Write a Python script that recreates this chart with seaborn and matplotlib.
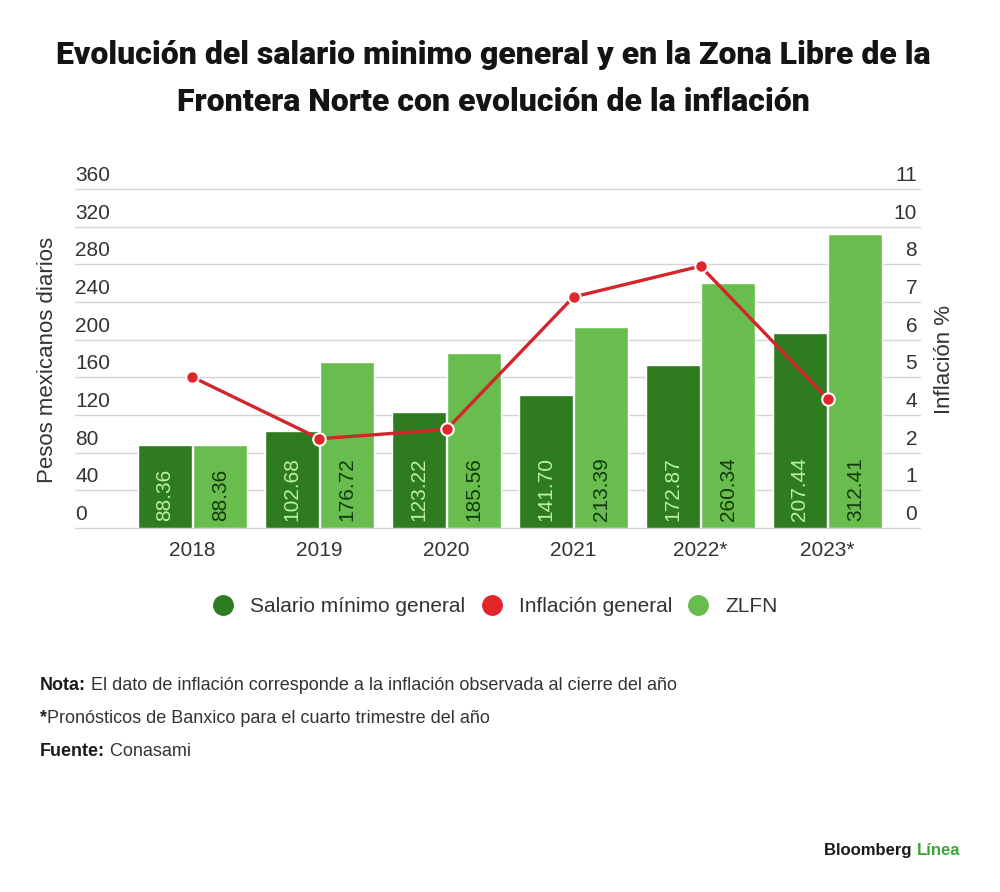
import numpy as np
import pandas as pd
import matplotlib
matplotlib.use('Agg')
import matplotlib.pyplot as plt
from matplotlib.lines import Line2D
import seaborn as sns

years = ['2018', '2019', '2020', '2021', '2022*', '2023*']
salario_general = [88.36, 102.68, 123.22, 141.70, 172.87, 207.44]
salario_zlfn = [88.36, 176.72, 185.56, 213.39, 260.34, 312.41]
inflacion = [4.9, 2.9, 3.2, 7.5, 8.5, 4.2]

left_ticks = [0, 40, 80, 120, 160, 200, 240, 280, 320, 360]
right_labels = ['0', '1', '2', '4', '5', '6', '7', '8', '10', '11']

dark_green = '#2e7b20'
light_green = '#68bd4e'
red = '#e0262a'

sns.set_theme(style='white')
plt.rcParams['font.family'] = ['Liberation Sans', 'DejaVu Sans']

df = pd.DataFrame({
    'year': years * 2,
    'valor': salario_general + salario_zlfn,
    'serie': ['Salario mínimo general'] * len(years) + ['ZLFN'] * len(years),
})

fig = plt.figure(figsize=(10, 8.92), dpi=100)
ax = fig.add_axes([0.075, 0.408, 0.845, 0.380])

sns.barplot(data=df, x='year', y='valor', hue='serie', palette=[dark_green, light_green],
            width=0.874, gap=0.03, saturation=1, legend=False, ax=ax, zorder=2)

# grid lines + tick labels sitting on top of the lines
for i, v in enumerate(left_ticks):
    ax.axhline(v, color='#d4d4d4', lw=1, zorder=0, clip_on=False)
    ax.annotate(str(v), (0, v), xycoords=ax.get_yaxis_transform(), xytext=(0, 3),
                textcoords='offset points', ha='left', va='bottom', fontsize=15, color='#333333')
    ax.annotate(right_labels[i], (1, v), xycoords=ax.get_yaxis_transform(), xytext=(-2, 3),
                textcoords='offset points', ha='right', va='bottom', fontsize=15, color='#333333')

# values inside bars
label_colors = ['#bdf0a4', '#123a0b']
for cont, col in zip(ax.containers, label_colors):
    for bar in cont:
        ax.annotate(f'{bar.get_height():.2f}', (bar.get_x() + bar.get_width() / 2, 0),
                    xytext=(0, 5), textcoords='offset points', rotation=90,
                    ha='center', va='bottom', fontsize=15, color=col, zorder=3)

ax2 = ax.twinx()
sns.pointplot(x=years, y=inflacion, color=red, markers='o', markersize=9, linewidth=2.4,
              markeredgecolor='white', markeredgewidth=1.5, ax=ax2)
ax2.lines[0].set_color('#d2262b')
ax2.lines[0].set_markerfacecolor(red)
ax2.lines[0].set_markeredgecolor('white')

ax.set_ylim(0, 360)
ax2.set_ylim(0, 11)
ax.set_xlim(-0.925, 5.728)
ax2.set_xlim(-0.925, 5.728)

for a in (ax, ax2):
    for s in a.spines.values():
        s.set_visible(False)
    a.set_yticks([])
    a.set_ylabel('')
    a.set_xlabel('')
ax.tick_params(axis='x', length=0, pad=9, labelsize=15, labelcolor='#333333')
ax2.tick_params(axis='x', length=0, labelbottom=False)

fig.text(0.048, 0.407 + 0.19, 'Pesos mexicanos diarios', rotation=90, ha='center', va='center',
         fontsize=16, color='#333333')
fig.text(0.945, 0.407 + 0.19, 'Inflación %', rotation=90, ha='center', va='center',
         fontsize=16, color='#333333')

fig.text(0.493, 0.912, 'Evolución del salario minimo general y en la Zona Libre de la\n'
         'Frontera Norte con evolución de la inflación', ha='center', va='center',
         fontsize=23, weight='black', linespacing=1.7, color='#141414',
         family=['Roboto', 'DejaVu Sans'])

handles = [Line2D([], [], marker='o', ls='', ms=14, color=dark_green),
           Line2D([], [], marker='o', ls='', ms=14, color=red),
           Line2D([], [], marker='o', ls='', ms=14, color=light_green)]
fig.legend(handles, ['Salario mínimo general', 'Inflación general', 'ZLFN'], loc='center',
           bbox_to_anchor=(0.49, 0.32), ncol=3, frameon=False, fontsize=15,
           handletextpad=0.3, columnspacing=0.25, labelcolor='#333333')

notes = [('Nota:', ' El dato de inflación corresponde a la inflación observada al cierre del año', 0.232),
         ('*', 'Pronósticos de Banxico para el cuarto trimestre del año', 0.195),
         ('Fuente:', ' Conasami', 0.157)]
for bold, rest, y in notes:
    t = fig.text(0.04, y, bold, weight='bold', fontsize=13, va='center', color='#1a1a1a')
    ax.annotate(rest, xy=(1, 0.5), xycoords=t, ha='left', va='center', fontsize=13,
                color='#333333', annotation_clip=False)

t = fig.text(0.96, 0.046, 'Línea', ha='right', va='center', weight='bold', fontsize=12, color='#3aa63a')
ax.annotate('Bloomberg ', xy=(0, 0.5), xycoords=t, ha='right', va='center', weight='bold',
            fontsize=12, color='#1a1a1a', annotation_clip=False)

fig.savefig('out.png', dpi=100)
